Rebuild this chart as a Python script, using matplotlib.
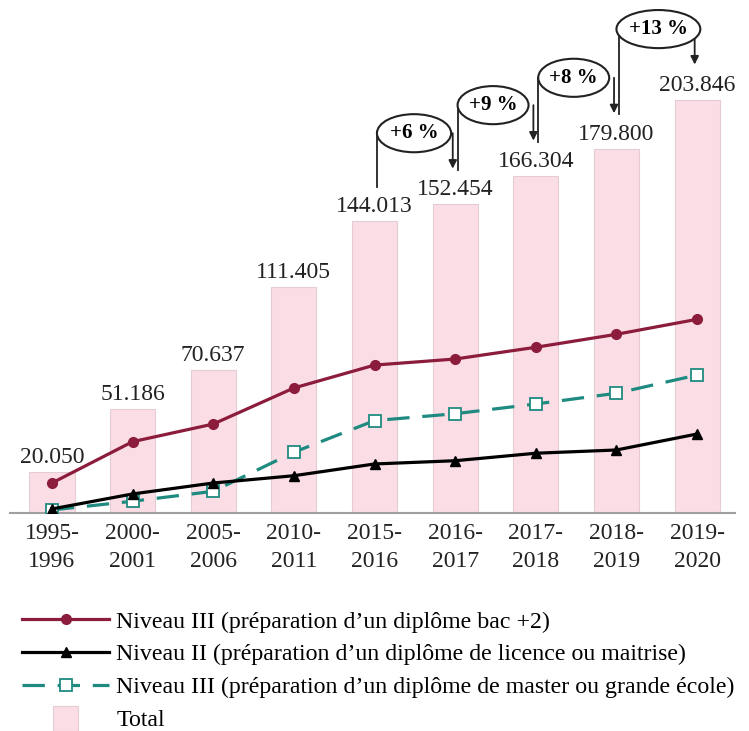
import numpy as np
import matplotlib
matplotlib.use("Agg")
import matplotlib.pyplot as plt
from matplotlib.patches import Ellipse, Rectangle
from matplotlib.legend_handler import HandlerPatch

plt.rcParams['font.family'] = ['Liberation Serif', 'DejaVu Serif']

# --- DATA ---
years = ["1995-\n1996", "2000-\n2001", "2005-\n2006", "2010-\n2011", "2015-\n2016",
         "2016-\n2017", "2017-\n2018", "2018-\n2019", "2019-\n2020"]
total = [20050, 51186, 70637, 111405, 144013, 152454, 166304, 179800, 203846]
bac2 = [14800, 35200, 43900, 61700, 73000, 76000, 81800, 88200, 95600]
licence = [2000, 9400, 14800, 18400, 24200, 25800, 29500, 31100, 39000]
master = [1500, 5800, 10700, 30000, 45600, 49000, 53800, 59100, 68100]
growth_labels = ["+6 %", "+9 %", "+8 %", "+13 %"]
growth_from = [4, 5, 6, 7]

label_bac2 = "Niveau III (préparation d\u2019un diplôme bac +2)"
label_lic = "Niveau II (préparation d\u2019un diplôme de licence ou maitrise)"
label_master = "Niveau III (préparation d\u2019un diplôme de master ou grande école)"

# --- COLOURS ---
pink = "#FBDDE5"
wine = "#8C1C3C"
teal = "#1F8A80"

fig = plt.figure(figsize=(7.49, 7.31), dpi=100)
ax = fig.add_axes([10 / 749, 218 / 731, 725 / 749, 513 / 731])
x = np.arange(len(years))

bars = ax.bar(x, total, width=0.56, color=pink, edgecolor="#E3CDD3", linewidth=0.8,
              zorder=1)
for xi, v in zip(x, total):
    ax.annotate(f"{v:,}".replace(",", "."), (xi, v), xytext=(0, 3),
                textcoords="offset points", ha="center", va="bottom",
                fontsize=17, color="#222222")

l1, = ax.plot(x, bac2, color=wine, lw=2.3, marker="o", ms=7, zorder=4)
l2, = ax.plot(x, licence, color="black", lw=2.3, marker="^", ms=7, zorder=4)
l3, = ax.plot(x, master, color=teal, lw=2.3, dashes=(7, 4), marker="s", ms=8,
              mfc="white", mec=teal, mew=1.3, zorder=3)

# --- growth bubbles ---
ell_w = [0.92, 0.88, 0.88, 1.04]
for i, txt, w in zip(growth_from, growth_labels, ell_w):
    xl = i + 0.03
    xr = i + 1 - 0.03
    ey = total[i + 1] + 35000
    cx = xl + w / 2 if w < 1 else (xl + xr) / 2 + 0.02
    ax.plot([xl, xl], [total[i] + 17000, ey], color="#222222", lw=1.3, zorder=5)
    ax.add_patch(Ellipse((cx, ey), w, 18800, facecolor="white", edgecolor="#222222",
                         lw=1.5, zorder=6))
    ax.text(cx, ey, txt, ha="center", va="center", fontsize=15, fontweight="bold", zorder=7)
    ax.annotate("", xy=(xr, total[i + 1] + 17500), xytext=(xr, ey),
                arrowprops=dict(arrowstyle="-|>", color="#222222", lw=1.3,
                                mutation_scale=12, shrinkA=0, shrinkB=0), zorder=5)

ax.set_xlim(-0.52, 8.47)
ax.set_ylim(0, 253200)
ax.set_xticks(x)
ax.set_xticklabels(years, fontsize=17, color="#222222", linespacing=1.45)
ax.tick_params(axis="x", length=0, pad=7)
ax.set_yticks([])
for s in ["top", "left", "right"]:
    ax.spines[s].set_visible(False)
ax.spines["bottom"].set_color("#A0A0A0")
ax.spines["bottom"].set_linewidth(1.5)
ax.spines["bottom"].set_zorder(2)
ax.patch.set_alpha(0)


def square_patch(legend, orig_handle, xdescent, ydescent, width, height, fontsize):
    s = height * 1.45
    return Rectangle((-xdescent + (width - s) / 2, -ydescent - s * 0.2), s, s)


total_handle = Rectangle((0, 0), 1, 1, facecolor=pink, edgecolor="#E3CDD3", lw=0.8)
fig.legend([l1, l2, l3, total_handle], [label_bac2, label_lic, label_master, "Total"],
           loc="upper left", bbox_to_anchor=(22 / 749, 1 - 611 / 731),
           frameon=False, fontsize=17.2, handlelength=3.65, handletextpad=0.3,
           labelspacing=0.46, borderpad=0, borderaxespad=0,
           handler_map={Rectangle: HandlerPatch(patch_func=square_patch)})

fig.savefig("out.png", dpi=100)
